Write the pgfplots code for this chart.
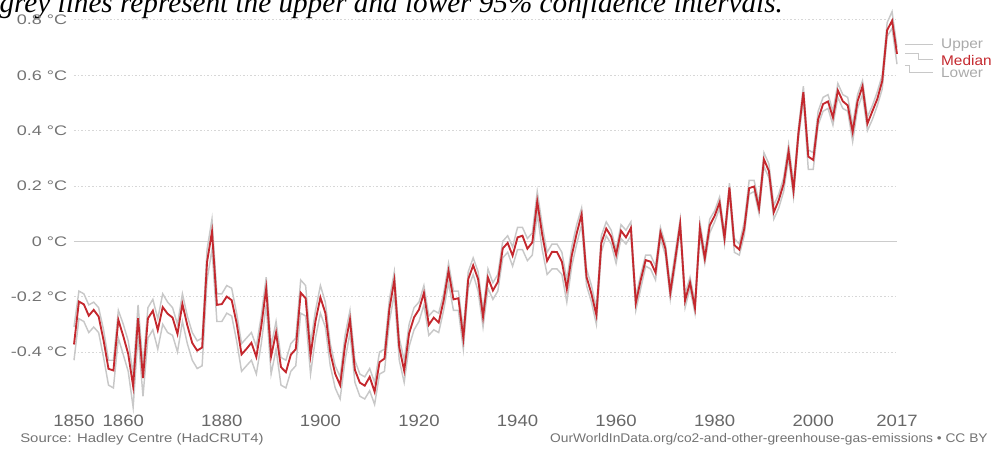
\documentclass[border=0pt]{standalone}
\usepackage{pgfplots}
\pgfplotsset{compat=1.18}
\usepackage{pgfplotstable}
\usepackage{fontspec}
\setmainfont{Liberation Sans}
\newfontfamily\capfont{Liberation Serif}
\definecolor{medred}{RGB}{196,40,46}
\definecolor{cigrey}{RGB}{200,200,200}
\definecolor{labgrey}{RGB}{115,115,115}
\definecolor{gridgrey}{RGB}{215,215,215}
\newcommand\ylab[1]{\scalebox{1.3}[1]{#1}}
\newcommand\xlab[1]{\scalebox{1.13}[1]{#1}}

\pgfplotstableread{
year med up lo
1850 -0.373 -0.31 -0.43
1851 -0.218 -0.18 -0.28
1852 -0.228 -0.19 -0.29
1853 -0.269 -0.23 -0.33
1854 -0.248 -0.22 -0.31
1855 -0.272 -0.24 -0.33
1856 -0.358 -0.32 -0.42
1857 -0.461 -0.43 -0.52
1858 -0.467 -0.43 -0.53
1859 -0.284 -0.25 -0.35
1860 -0.343 -0.30 -0.41
1861 -0.407 -0.36 -0.47
1862 -0.524 -0.48 -0.60
1863 -0.278 -0.23 -0.34
1864 -0.494 -0.45 -0.56
1865 -0.279 -0.24 -0.35
1866 -0.251 -0.21 -0.32
1867 -0.321 -0.28 -0.39
1868 -0.238 -0.19 -0.30
1869 -0.262 -0.22 -0.33
1870 -0.276 -0.24 -0.34
1871 -0.335 -0.30 -0.40
1872 -0.227 -0.19 -0.29
1873 -0.304 -0.27 -0.37
1874 -0.368 -0.33 -0.43
1875 -0.395 -0.36 -0.46
1876 -0.384 -0.35 -0.45
1877 -0.075 -0.03 -0.14
1878 0.035 0.08 -0.03
1879 -0.230 -0.19 -0.29
1880 -0.227 -0.19 -0.29
1881 -0.200 -0.16 -0.26
1882 -0.213 -0.17 -0.27
1883 -0.296 -0.26 -0.36
1884 -0.409 -0.37 -0.47
1885 -0.389 -0.35 -0.45
1886 -0.367 -0.33 -0.43
1887 -0.418 -0.38 -0.48
1888 -0.307 -0.27 -0.37
1889 -0.171 -0.13 -0.23
1890 -0.416 -0.38 -0.48
1891 -0.330 -0.29 -0.39
1892 -0.455 -0.42 -0.52
1893 -0.473 -0.43 -0.53
1894 -0.410 -0.37 -0.47
1895 -0.390 -0.35 -0.45
1896 -0.186 -0.14 -0.26
1897 -0.206 -0.16 -0.27
1898 -0.412 -0.37 -0.48
1899 -0.289 -0.25 -0.35
1900 -0.203 -0.16 -0.26
1901 -0.259 -0.22 -0.31
1902 -0.402 -0.37 -0.45
1903 -0.479 -0.45 -0.53
1904 -0.520 -0.49 -0.57
1905 -0.377 -0.34 -0.43
1906 -0.283 -0.25 -0.33
1907 -0.465 -0.43 -0.51
1908 -0.511 -0.48 -0.56
1909 -0.522 -0.49 -0.57
1910 -0.490 -0.46 -0.54
1911 -0.544 -0.51 -0.59
1912 -0.437 -0.40 -0.48
1913 -0.424 -0.39 -0.47
1914 -0.244 -0.21 -0.29
1915 -0.141 -0.11 -0.19
1916 -0.383 -0.35 -0.43
1917 -0.468 -0.43 -0.51
1918 -0.333 -0.30 -0.38
1919 -0.275 -0.24 -0.32
1920 -0.247 -0.22 -0.29
1921 -0.187 -0.16 -0.23
1922 -0.302 -0.27 -0.34
1923 -0.276 -0.25 -0.32
1924 -0.294 -0.26 -0.33
1925 -0.215 -0.19 -0.25
1926 -0.108 -0.08 -0.15
1927 -0.210 -0.18 -0.25
1928 -0.206 -0.18 -0.25
1929 -0.350 -0.32 -0.39
1930 -0.137 -0.11 -0.17
1931 -0.087 -0.06 -0.12
1932 -0.137 -0.11 -0.18
1933 -0.273 -0.25 -0.31
1934 -0.131 -0.10 -0.17
1935 -0.178 -0.15 -0.21
1936 -0.147 -0.12 -0.18
1937 -0.026 0.00 -0.06
1938 -0.006 0.02 -0.04
1939 -0.052 -0.02 -0.09
1940 0.014 0.05 -0.03
1941 0.020 0.05 -0.03
1942 -0.027 0.01 -0.07
1943 -0.004 0.03 -0.05
1944 0.144 0.18 0.10
1945 0.025 0.06 -0.03
1946 -0.071 -0.04 -0.12
1947 -0.038 -0.01 -0.10
1948 -0.039 -0.01 -0.10
1949 -0.074 -0.04 -0.12
1950 -0.173 -0.14 -0.22
1951 -0.052 -0.02 -0.09
1952 0.028 0.06 -0.01
1953 0.097 0.12 0.06
1954 -0.129 -0.10 -0.16
1955 -0.190 -0.16 -0.22
1956 -0.267 -0.24 -0.30
1957 -0.007 0.02 -0.04
1958 0.046 0.07 0.02
1959 0.017 0.04 -0.01
1960 -0.049 -0.03 -0.08
1961 0.038 0.06 0.01
1962 0.014 0.04 -0.01
1963 0.048 0.07 0.02
1964 -0.223 -0.20 -0.25
1965 -0.140 -0.12 -0.17
1966 -0.068 -0.05 -0.09
1967 -0.074 -0.05 -0.10
1968 -0.113 -0.09 -0.14
1969 0.032 0.05 0.01
1970 -0.027 -0.01 -0.05
1971 -0.186 -0.16 -0.21
1972 -0.065 -0.04 -0.09
1973 0.062 0.08 0.04
1974 -0.214 -0.19 -0.24
1975 -0.149 -0.13 -0.17
1976 -0.241 -0.22 -0.26
1977 0.047 0.07 0.02
1978 -0.062 -0.04 -0.08
1979 0.057 0.08 0.03
1980 0.092 0.11 0.07
1981 0.140 0.16 0.12
1982 0.011 0.03 -0.01
1983 0.194 0.21 0.17
1984 -0.014 0.01 -0.04
1985 -0.030 -0.01 -0.05
1986 0.045 0.07 0.02
1987 0.192 0.22 0.17
1988 0.198 0.22 0.18
1989 0.118 0.14 0.10
1990 0.296 0.32 0.27
1991 0.254 0.28 0.23
1992 0.105 0.13 0.08
1993 0.148 0.17 0.12
1994 0.208 0.23 0.18
1995 0.325 0.35 0.30
1996 0.183 0.21 0.16
1997 0.390 0.41 0.37
1998 0.539 0.56 0.51
1999 0.306 0.33 0.26
2000 0.294 0.32 0.26
2001 0.441 0.47 0.42
2002 0.496 0.52 0.47
2003 0.505 0.53 0.48
2004 0.447 0.47 0.42
2005 0.545 0.57 0.52
2006 0.506 0.53 0.48
2007 0.491 0.52 0.47
2008 0.395 0.42 0.36
2009 0.506 0.53 0.48
2010 0.560 0.58 0.53
2011 0.425 0.45 0.40
2012 0.470 0.49 0.44
2013 0.514 0.54 0.49
2014 0.579 0.60 0.55
2015 0.763 0.79 0.74
2016 0.797 0.83 0.77
2017 0.677 0.70 0.64
}\hadcrut

\begin{document}
\begin{tikzpicture}
\useasboundingbox (0pt,0pt) rectangle (744pt,338.25pt);
\clip (0pt,0pt) rectangle (744pt,338.25pt);
\node[anchor=base west, inner sep=0pt, font=\capfont\itshape\fontsize{21.9}{26}\selectfont] at (-0.5pt,328.5pt) {grey lines represent the upper and lower 95\% confidence intervals.};
\begin{axis}[
  at={(55.5pt,32.8pt)}, anchor=south west,
  scale only axis, width=617.25pt, height=300.9pt,
  xmin=1850, xmax=2017, ymin=-0.6, ymax=0.85,
  clip=false,
  axis line style={draw=none},
  major tick length=0pt,
  xtick={1850,1860,1880,1900,1920,1940,1960,1980,2000,2017},
  xticklabels={\xlab{1850},\xlab{1860},\xlab{1880},\xlab{1900},\xlab{1920},\xlab{1940},\xlab{1960},\xlab{1980},\xlab{2000},\xlab{2017}},
  ytick={-0.4,-0.2,0,0.2,0.4,0.6,0.8},
  yticklabels={\ylab{-0.4 °C},\ylab{-0.2 °C},\ylab{0 °C},\ylab{0.2 °C},\ylab{0.4 °C},\ylab{0.6 °C},\ylab{0.8 °C}},
  ymajorgrids,
  grid style={gridgrey, dash pattern=on 1.2pt off 1.5pt, line width=0.6pt},
  xticklabel style={anchor=north, inner sep=0pt, yshift=-6pt, text=labgrey!90!black, font=\fontsize{12.3}{14}\selectfont},
  yticklabel style={anchor=east, inner sep=0pt, xshift=-5pt, text=labgrey, font=\fontsize{10.4}{12}\selectfont},
]
\addplot[gridgrey!95!black, line width=0.8pt] coordinates {(1850,0) (2017,0)};
\addplot[cigrey, line width=1.1pt] table[x=year,y=up]{\hadcrut};
\addplot[cigrey, line width=1.1pt] table[x=year,y=lo]{\hadcrut};
\addplot[medred, line width=1.4pt] table[x=year,y=med]{\hadcrut};
\draw[cigrey, line width=0.8pt] (axis cs:2018.6,0.712) -- (axis cs:2024.3,0.712);
\draw[cigrey, line width=0.8pt] (axis cs:2018.6,0.68) -- (axis cs:2021.3,0.68) -- (axis cs:2021.3,0.658) -- (axis cs:2024.3,0.658);
\draw[cigrey, line width=0.8pt] (axis cs:2018.6,0.635) -- (axis cs:2019.6,0.635) -- (axis cs:2019.6,0.609) -- (axis cs:2024.3,0.609);
\node[anchor=west, inner sep=0pt, text=cigrey!85!black, font=\fontsize{10.5}{12}\selectfont] at (axis cs:2025.9,0.7095) {\scalebox{1.1}[1]{Upper}};
\node[anchor=west, inner sep=0pt, text=medred, font=\fontsize{10.5}{12}\selectfont] at (axis cs:2025.9,0.655) {\scalebox{1.1}[1]{Median}};
\node[anchor=west, inner sep=0pt, text=cigrey!85!black, font=\fontsize{10.5}{12}\selectfont] at (axis cs:2025.9,0.608) {\scalebox{1.1}[1]{Lower}};
\end{axis}
\node[anchor=base west, inner sep=0pt, text=labgrey, font=\fontsize{9.4}{11}\selectfont] at (15pt,6.75pt) {\scalebox{1.19}[1]{Source: Hadley Centre (HadCRUT4)}};
\node[anchor=base east, inner sep=0pt, text=labgrey, font=\fontsize{9.4}{11}\selectfont] at (741pt,6.75pt) {\scalebox{1.1}[1]{OurWorldInData.org/co2-and-other-greenhouse-gas-emissions • CC BY}};
\end{tikzpicture}
\end{document}
